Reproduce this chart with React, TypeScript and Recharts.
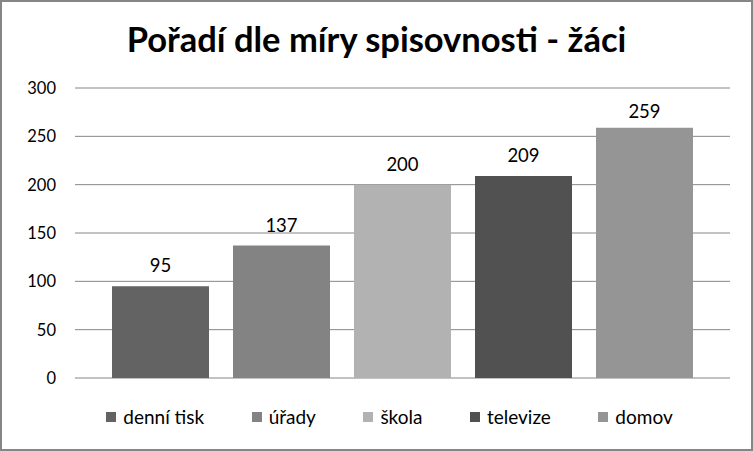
import React from 'react';
import { BarChart, Bar, XAxis, YAxis, CartesianGrid, Legend, LabelList } from 'recharts';

const categories = ['denní tisk', 'úřady', 'škola', 'televize', 'domov'];
const values = [95, 137, 200, 209, 259];
const colors = ['#636363', '#838383', '#b2b2b2', '#515151', '#959595'];
const yTicks = [0, 50, 100, 150, 200, 250, 300];
const title = 'Pořadí dle míry spisovnosti - žáci';

const keys = categories.map((_, i) => `s${i}`);
const row: Record<string, number | string> = { name: 'žáci' };
keys.forEach((k, i) => {
  row[k] = values[i];
});
const data = [row];

const FONT = 'Lato, "DejaVu Sans", sans-serif';

const renderLegend = () => {
  return (
    <div
      style={{
        display: 'flex',
        justifyContent: 'center',
        gap: 47.5,
        paddingLeft: 26,
        fontFamily: FONT,
        fontSize: 19,
        color: '#000',
      }}
    >
      {categories.map((c, i) => (
        <div key={c} style={{ display: 'flex', alignItems: 'center' }}>
          <span
            style={{
              display: 'inline-block',
              width: 10,
              height: 10,
              background: colors[i],
              marginRight: 7,
            }}
          />
          <span>{c}</span>
        </div>
      ))}
    </div>
  );
};

export default function App() {
  return (
    <div style={{ position: 'absolute', left: 0, top: 0, width: 753, height: 451, background: '#fff' }}>
      <div
        style={{
          position: 'absolute',
          left: 0,
          top: 22,
          width: 753,
          textAlign: 'center',
          fontFamily: FONT,
          fontWeight: 700,
          fontSize: 34.5,
          lineHeight: '34.5px',
          color: '#000',
        }}
      >
        {title}
      </div>
      <BarChart
        width={753}
        height={451}
        data={data}
        margin={{ top: 88, right: 23, bottom: 73, left: 0 }}
        barCategoryGap={37}
        barGap={24}
      >
        <CartesianGrid vertical={false} stroke="#868686" strokeWidth={1} />
        <XAxis dataKey="name" hide />
        <YAxis
          width={75}
          domain={[0, 300]}
          ticks={yTicks}
          axisLine={false}
          tickLine={false}
          tickMargin={13}
          tick={{ fill: '#000', fontSize: 16.5, fontFamily: FONT }}
          interval={0}
        />
        <Legend
          layout="horizontal"
          verticalAlign="middle"
          align="center"
          content={renderLegend}
          wrapperStyle={{ top: 405, left: 0, width: 753 }}
        />
        {keys.map((k, i) => (
          <Bar key={k} dataKey={k} name={categories[i]} fill={colors[i]} isAnimationActive={false}>
            <LabelList
              dataKey={k}
              position="top"
              offset={values[i] > 250 ? 10 : 14}
              fill="#000"
              fontSize={18.5}
              fontFamily={FONT}
            />
          </Bar>
        ))}
      </BarChart>
      <div
        style={{
          position: 'absolute',
          left: 0,
          top: 0,
          width: 753,
          height: 451,
          boxSizing: 'border-box',
          border: '2px solid #868686',
          pointerEvents: 'none',
        }}
      />
    </div>
  );
}
